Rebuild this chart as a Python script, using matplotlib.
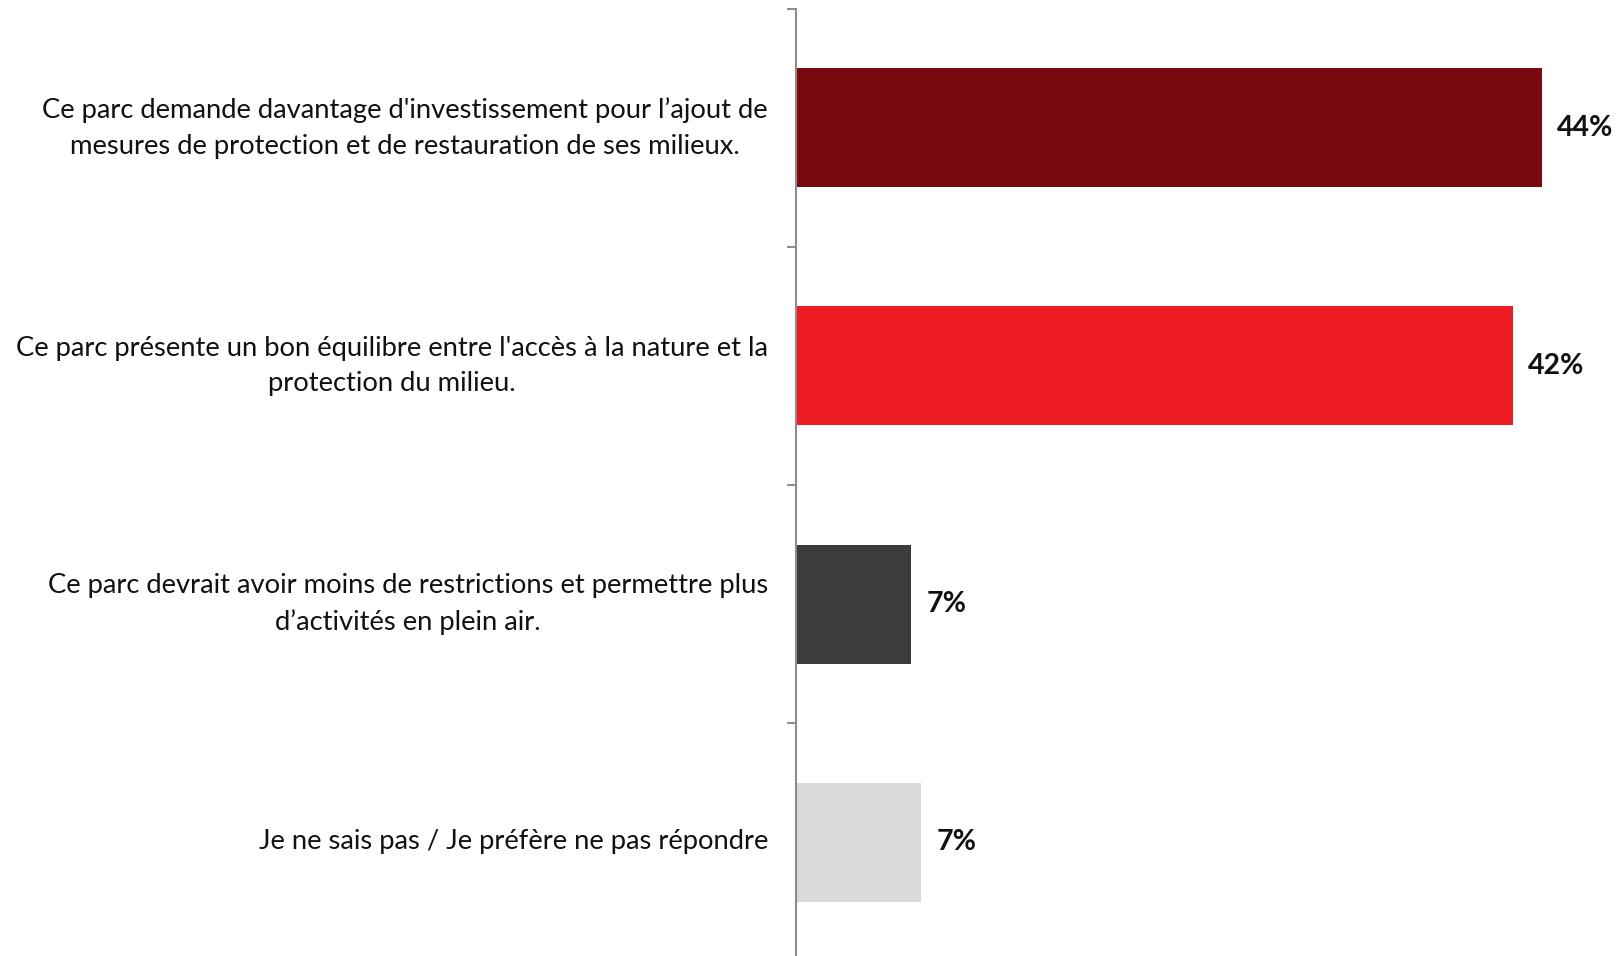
import matplotlib
matplotlib.use("Agg")
import matplotlib.pyplot as plt
from matplotlib.transforms import blended_transform_factory, offset_copy

categories = [
    "Ce parc demande davantage d'investissement pour l\u2019ajout de\nmesures de protection et de restauration de ses milieux.",
    "Ce parc présente un bon équilibre entre l'accès à la nature et la\nprotection du milieu.",
    "Ce parc devrait avoir moins de restrictions et permettre plus\nd\u2019activités en plein air.",
    "Je ne sais pas / Je préfère ne pas répondre",
]
values = [44.0, 42.3, 6.8, 7.4]
value_labels = ["44%", "42%", "7%", "7%"]
colors = ["#7B0A10", "#ED1C24", "#3C3C3C", "#D9D9D9"]

plt.rcParams['font.family'] = ['Lato', 'DejaVu Sans']

W, H = 1619, 956
fig = plt.figure(figsize=(W / 100, H / 100), dpi=100)
ax = fig.add_axes([796 / W, -5 / H, 1 - 796 / W, 952 / H])

y = list(range(len(categories)))
ax.barh(y, values, height=0.5, color=colors, zorder=2)
ax.set_xlim(0, 823 / 16.95)
ax.set_ylim(3.5, -0.5)

for s in ["top", "right", "bottom"]:
    ax.spines[s].set_visible(False)
ax.spines["left"].set_color("#8C8C8C")
ax.spines["left"].set_linewidth(1.5)
ax.set_xticks([])
ax.set_yticks([-0.5, 0.5, 1.5, 2.5, 3.5])
ax.set_yticklabels([])
ax.tick_params(axis="y", length=6.5, width=1.5, color="#8C8C8C", direction="out")

trans = blended_transform_factory(fig.transFigure, ax.transData)
for yi, lab in zip(y, categories):
    ax.text(768 / W, yi, lab, transform=trans, ha="right", va="center",
            multialignment="center", fontsize=19.7, color="#111111", linespacing=1.52)

for yi, v, lab in zip(y, values, value_labels):
    ax.text(v, yi, lab, transform=offset_copy(ax.transData, fig=fig, x=15, y=0, units="dots"),
            ha="left", va="center", fontsize=20.5, fontweight="bold", color="#111111")

fig.savefig("out.png", dpi=100)
